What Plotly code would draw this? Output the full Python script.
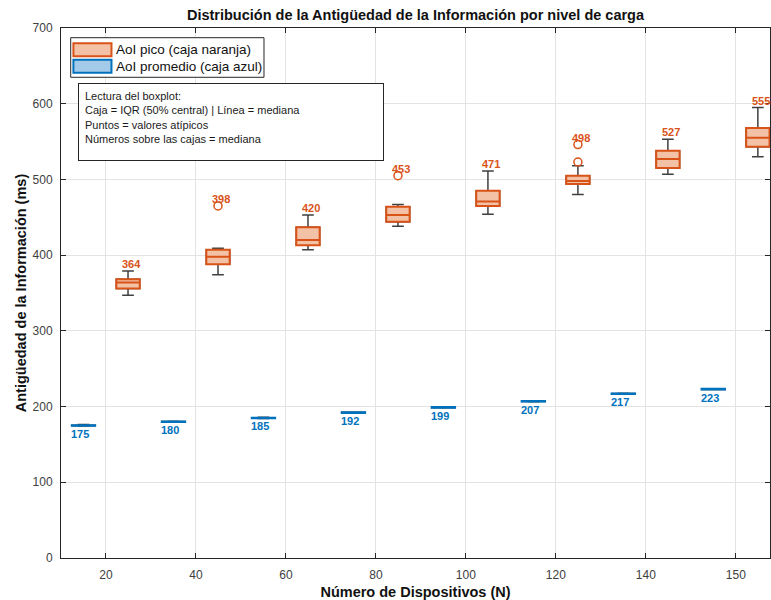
import plotly.graph_objects as go

# Carga de la red: número de dispositivos por grupo
N_LABELS = ["20", "40", "60", "80", "100", "120", "140", "150"]

# AoI pico (ms): estadísticos del boxplot por grupo
PICO_MED = [364, 398, 420, 453, 471, 498, 527, 555]
PICO_Q1 = [356, 388, 413, 444, 465, 494, 515, 543]
PICO_Q3 = [368, 407, 437, 464, 485, 505, 538, 568]
PICO_LO = [347, 374, 407, 438, 454, 480, 507, 530]
PICO_HI = [379, 409, 453, 467, 511, 518, 553, 595]
# valores atípicos del AoI pico: (grupo, valor)
PICO_OUT_GROUP = ["40", "80", "120", "120"]
PICO_OUT_VAL = [465, 505, 523, 546]

# AoI promedio (ms): estadísticos del boxplot por grupo
PROM_MED = [175, 180, 185, 192, 199, 207, 217, 223]
PROM_Q1 = [174.6, 179.6, 184.6, 191.6, 198.6, 206.6, 216.6, 222.6]
PROM_Q3 = [175.4, 180.4, 185.4, 192.4, 199.4, 207.4, 217.4, 223.4]
PROM_LO = [174.3, 179.4, 184.3, 191.4, 198.4, 206.4, 216.4, 222.5]
PROM_HI = [176.2, 180.6, 185.9, 192.6, 199.6, 207.6, 217.6, 223.5]

SERIES_NAMES = ["AoI pico (caja naranja)", "AoI promedio (caja azul)"]

ORANGE = "#D95319"
ORANGE_FILL = "#F3C2A6"
BLUE = "#0072BD"
BLUE_FILL = "#A3CBE9"
WHISKER = "#404040"
AXIS = "#262626"
FONT = "Liberation Sans, Arial, sans-serif"

BOX_W = 0.26
OFF_PICO = 0.245
OFF_PROM = -0.25

idx = list(range(1, len(N_LABELS) + 1))
pos_pico = [i + OFF_PICO for i in idx]
pos_prom = [i + OFF_PROM for i in idx]

fig = go.Figure()


def add_boxes(pos, q1, med, q3, lo, hi, edge, fill, name):
    # bigotes en gris oscuro
    fig.add_trace(go.Box(
        x=pos, q1=q1, median=med, q3=q3, lowerfence=lo, upperfence=hi,
        width=BOX_W, line=dict(color=WHISKER, width=1.5),
        fillcolor="rgba(0,0,0,0)", whiskerwidth=0.5,
        showlegend=False, hoverinfo="skip", name=name,
    ))
    # caja (IQR) y mediana en el color de la serie
    fig.add_trace(go.Box(
        x=pos, q1=q1, median=med, q3=q3, lowerfence=q1, upperfence=q3,
        width=BOX_W, line=dict(color=edge, width=2),
        fillcolor=fill, whiskerwidth=0, name=name, showlegend=False,
    ))


add_boxes(pos_pico, PICO_Q1, PICO_MED, PICO_Q3, PICO_LO, PICO_HI,
          ORANGE, ORANGE_FILL, SERIES_NAMES[0])
add_boxes(pos_prom, PROM_Q1, PROM_MED, PROM_Q3, PROM_LO, PROM_HI,
          BLUE, BLUE_FILL, SERIES_NAMES[1])

# valores atípicos del AoI pico
out_x = [N_LABELS.index(g) + 1 + OFF_PICO for g in PICO_OUT_GROUP]
fig.add_trace(go.Scatter(
    x=out_x, y=PICO_OUT_VAL, mode="markers",
    marker=dict(symbol="circle-open", size=8, color=ORANGE, line=dict(width=1.5)),
    showlegend=False, hoverinfo="skip",
))

# medianas sobre/bajo las cajas
for k, lab in enumerate(N_LABELS):
    top = max([PICO_HI[k]] + [v for g, v in zip(PICO_OUT_GROUP, PICO_OUT_VAL) if g == lab])
    fig.add_annotation(
        x=pos_pico[k], y=top, text=f"<b>{PICO_MED[k]}</b>", showarrow=False,
        xshift=3, yshift=7, yanchor="middle",
        font=dict(family=FONT, size=11, color=ORANGE),
    )
    fig.add_annotation(
        x=pos_prom[k], y=PROM_LO[k], text=f"<b>{PROM_MED[k]}</b>", showarrow=False,
        xshift=-3, yshift=-8, yanchor="middle",
        font=dict(family=FONT, size=11, color=BLUE),
    )

# leyenda con parches rectangulares
shapes = [dict(type="rect", xref="paper", yref="paper",
               x0=0.0137, x1=0.2863, y0=0.907, y1=0.9817,
               line=dict(color=AXIS, width=1), fillcolor="white", layer="above")]
patch_rows = [(0.9468, 0.9713), (0.9155, 0.940)]
for (y0, y1), edge, fill, name in zip(patch_rows, [ORANGE, BLUE],
                                      [ORANGE_FILL, BLUE_FILL], SERIES_NAMES):
    shapes.append(dict(type="rect", xref="paper", yref="paper",
                       x0=0.0175, x1=0.0712, y0=y0, y1=y1,
                       line=dict(color=edge, width=2), fillcolor=fill, layer="above"))
    fig.add_annotation(
        xref="paper", yref="paper", x=0.0745, y=(y0 + y1) / 2,
        xanchor="left", yanchor="middle", text=name, showarrow=False,
        font=dict(family=FONT, size=13.5, color="#111111"),
    )

# cuadro explicativo
fig.add_annotation(
    xref="paper", yref="paper", x=0.0245, y=0.8957,
    xanchor="left", yanchor="top", align="left", valign="top",
    text=("Lectura del boxplot:<br>"
          "Caja = IQR (50% central) | Línea = mediana<br>"
          "Puntos = valores atípicos<br>"
          "Números sobre las cajas = mediana"),
    showarrow=False, width=292, height=64, borderpad=6,
    bordercolor=AXIS, borderwidth=1, bgcolor="white",
    font=dict(family=FONT, size=11, color="#1a1a1a"),
)

fig.update_layout(
    width=771, height=600,
    margin=dict(l=61, r=1, t=28, b=42),
    paper_bgcolor="white", plot_bgcolor="white",
    font=dict(family=FONT, size=12, color=AXIS),
    shapes=shapes,
    showlegend=False,
    title=dict(
        text="<b>Distribución de la Antigüedad de la Información por nivel de carga</b>",
        x=0.5, xref="paper", y=0.975, yref="container", yanchor="middle",
        font=dict(family=FONT, size=14.5, color="#111111"),
    ),
    boxmode="overlay",
    xaxis=dict(
        range=[0.5, 8.38], tickmode="array", tickvals=idx, ticktext=N_LABELS,
        showgrid=True, gridcolor="#E3E3E3", zeroline=False,
        showline=True, linecolor=AXIS, linewidth=1, mirror="ticks",
        ticks="inside", ticklen=5, tickcolor=AXIS, ticklabelstandoff=6,
        tickfont=dict(family=FONT, size=12, color="#404040"),
        title=dict(text="<b>Número de Dispositivos (N)</b>", standoff=5,
                   font=dict(family=FONT, size=14.5, color="#111111")),
    ),
    yaxis=dict(
        range=[0, 700], tickmode="linear", tick0=0, dtick=100,
        showgrid=True, gridcolor="#E3E3E3", zeroline=False,
        showline=True, linecolor=AXIS, linewidth=1, mirror="ticks",
        ticks="inside", ticklen=5, tickcolor=AXIS, ticklabelstandoff=5,
        tickfont=dict(family=FONT, size=12, color="#404040"),
        title=dict(text="<b>Antigüedad de la Información (ms)</b>", standoff=2,
                   font=dict(family=FONT, size=14.5, color="#111111")),
    ),
)

fig.write_html("out.html")
